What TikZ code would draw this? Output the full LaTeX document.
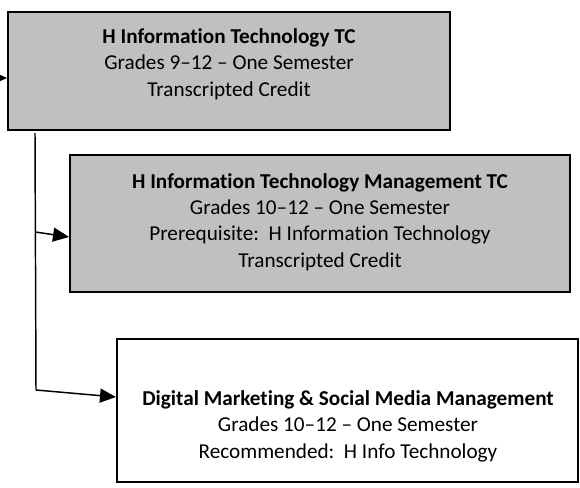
\documentclass[tikz,border=0pt]{standalone}
\usepackage{fontspec}
\setmainfont[Ligatures={NoCommon,NoRare}]{Carlito}
\usetikzlibrary{arrows.meta}
\definecolor{boxgray}{RGB}{192,192,192}
\begin{document}
\begin{tikzpicture}[x=0.75pt,y=-0.75pt,
  course/.style={draw=black,line width=1.5pt,minimum width=#1},
  txt/.style={align=center,inner sep=0pt,font=\fontsize{15.9}{19.8}\selectfont},
  conn/.style={line width=1.1pt},
  arr/.style={conn,-{Triangle[length=12pt,width=10.5pt]}}]
\useasboundingbox (0,0) rectangle (580,487);
% boxes
\node[course=331.5pt,fill=boxgray,minimum height=88.5pt] (b1) at (229,71) {};
\node[course=375pt,fill=boxgray,minimum height=102.75pt] (b2) at (320,223.5) {};
\node[course=345.75pt,fill=white,minimum height=107.25pt] (b3) at (347.5,410.5) {};
% texts
\node[txt] (t1) at (229,64) {\textbf{H Information Technology TC}\\Grades 9–12 – One Semester\\Transcripted Credit};
\node[txt] (t2) at (320,222) {\textbf{H Information Technology Management TC}\\Grades 10–12 – One Semester\\Prerequisite:\ \ H Information Technology\\Transcripted Credit};
\node[txt] (t3) at (348,426) {\textbf{Digital Marketing \& Social Media Management}\\Grades 10–12 – One Semester\\Recommended:\ \ H Info Technology};
% connectors
\coordinate (in1) at (-30,78);
\coordinate (top) at (35,133);
\coordinate (mid) at (35.5,232);
\coordinate (bot) at (36,390);
\draw[arr] (in1) -- (b1.west |- in1);
\draw[conn] (top) -- (bot);
\draw[arr] (mid) -- (b2.west |- {(0,237)});
\draw[arr] (bot) -- (b3.west |- {(0,397)});
\end{tikzpicture}
\end{document}
